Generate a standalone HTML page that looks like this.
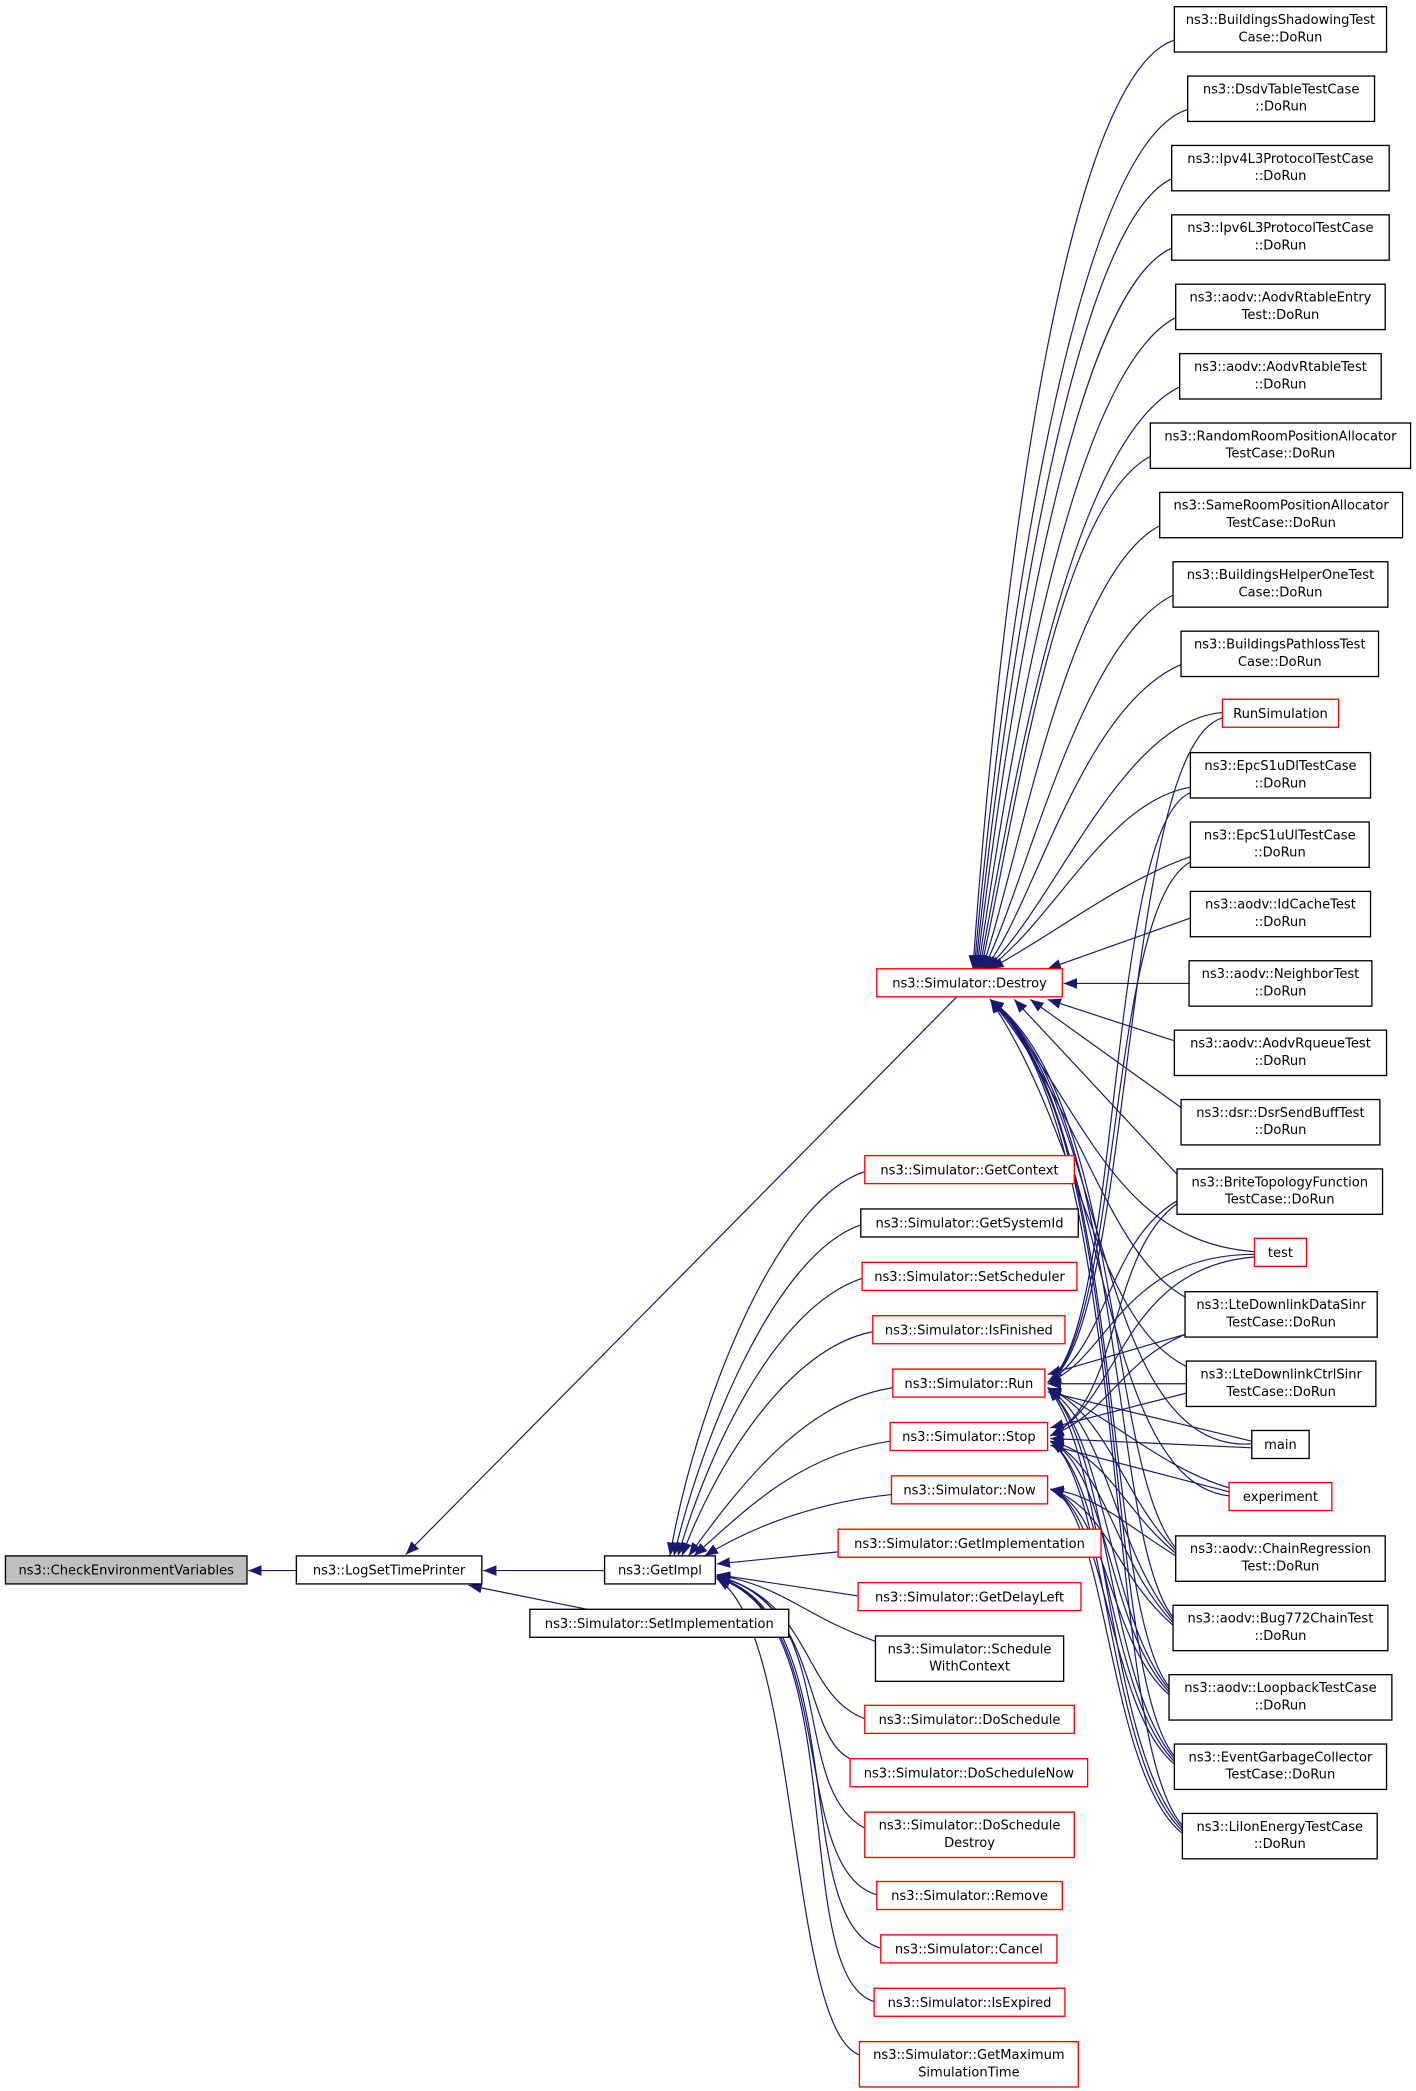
<!DOCTYPE html>
<html><head><meta charset="utf-8"><style>
html,body{margin:0;padding:0;background:#fff;}
svg{display:block;}
text{font-family:"DejaVu Sans","Liberation Sans",sans-serif;font-size:9.8px;fill:#000;text-anchor:middle;}
.n{fill:#fff;stroke:#000;stroke-width:1;}
.r{fill:#fff;stroke:#ff0000;stroke-width:1;}
.g{fill:#bfbfbf;stroke:#000;stroke-width:1;}
.e{fill:none;stroke:#191970;stroke-width:0.9;marker-end:url(#a);}
</style></head><body>
<svg width="1416" height="2091" viewBox="0 0 1061 1567" xmlns="http://www.w3.org/2000/svg">
<defs><marker id="a" markerUnits="userSpaceOnUse" markerWidth="11" markerHeight="8" refX="10" refY="4" orient="auto"><path d="M0,0 L10,4 L0,8 z" fill="#191970"/></marker></defs>

<path class="e" d="M880,30 C790,60 745,500 729,726"/>
<path class="e" d="M890,82 C800,110 748,520 730,726"/>
<path class="e" d="M878,134 C800,170 750,540 731,726"/>
<path class="e" d="M878,186 C800,220 752,560 732,726"/>
<path class="e" d="M881,238 C800,280 755,580 733,726"/>
<path class="e" d="M884,290 C800,330 758,600 734,726"/>
<path class="e" d="M862,342 C790,380 760,620 735,726"/>
<path class="e" d="M869,394 C800,430 765,640 736,726"/>
<path class="e" d="M879,446 C810,480 770,660 737,726"/>
<path class="e" d="M885,498 C810,530 775,680 738,726"/>
<path class="e" d="M916,534 C840,540 790,680 739,726"/>
<path class="e" d="M892,590 C830,600 790,690 740,726"/>
<path class="e" d="M892,642 C840,660 790,700 742,726"/>
<path class="e" d="M892,688 L785,726"/>
<path class="e" d="M891,737 L797,737"/>
<path class="e" d="M880,780 L785,749"/>
<path class="e" d="M885,830 L772,749"/>
<path class="e" d="M882,880 L760,749"/>
<path class="e" d="M940,938 C830,930 810,820 742,749"/>
<path class="e" d="M888,972 C830,940 810,830 742,749"/>
<path class="e" d="M889,1024 C820,990 810,850 742,749"/>
<path class="e" d="M938,1082 C820,1090 830,820 742,749"/>
<path class="e" d="M921,1121 C820,1110 830,830 742,749"/>
<path class="e" d="M881,1160 C830,1100 840,820 742,749"/>
<path class="e" d="M879,1212 C830,1150 845,830 742,749"/>
<path class="e" d="M876,1264 C825,1200 845,840 742,749"/>
<path class="e" d="M880,1316 C825,1250 848,840 742,749"/>
<path class="e" d="M886,1368 C825,1300 850,850 742,749"/>

<path class="e" d="M916,538 C840,560 850,1000 785,1036"/>
<path class="e" d="M892,594 C830,620 840,1000 785,1036"/>
<path class="e" d="M892,646 C830,680 840,1000 785,1036"/>
<path class="e" d="M882,900 C830,930 830,1010 785,1036"/>
<path class="e" d="M940,940 C840,940 830,1020 785,1036"/>
<path class="e" d="M888,1000 L785,1030"/>
<path class="e" d="M889,1037 L785,1037"/>
<path class="e" d="M938,1080 L785,1043"/>
<path class="e" d="M921,1115 C870,1100 830,1060 785,1040"/>
<path class="e" d="M881,1162 C840,1120 830,1060 785,1040"/>
<path class="e" d="M879,1214 C835,1160 830,1070 785,1040"/>
<path class="e" d="M876,1266 C830,1210 830,1080 785,1040"/>
<path class="e" d="M880,1318 C830,1260 830,1080 785,1040"/>
<path class="e" d="M886,1370 C830,1310 830,1090 785,1040"/>

<path class="e" d="M882,902 C830,940 840,1050 787,1076"/>
<path class="e" d="M940,942 C840,950 840,1050 787,1076"/>
<path class="e" d="M889,1044 L787,1070"/>
<path class="e" d="M888,1000 C840,1020 830,1060 787,1076"/>
<path class="e" d="M938,1085 L787,1078"/>
<path class="e" d="M921,1118 L787,1083"/>
<path class="e" d="M881,1164 C840,1130 830,1090 787,1080"/>
<path class="e" d="M879,1216 C835,1170 830,1100 787,1080"/>
<path class="e" d="M876,1268 C830,1220 830,1100 787,1080"/>
<path class="e" d="M880,1320 C830,1270 830,1110 787,1080"/>
<path class="e" d="M886,1372 C830,1320 830,1110 787,1080"/>

<path class="e" d="M881,1166 C840,1140 820,1120 787,1116"/>
<path class="e" d="M879,1218 C835,1180 830,1130 787,1116"/>
<path class="e" d="M876,1270 C830,1230 830,1130 787,1116"/>
<path class="e" d="M880,1322 C830,1280 830,1130 787,1116"/>
<path class="e" d="M886,1374 C830,1330 830,1130 787,1116"/>

<path class="e" d="M648,878 C580,900 520,1060 502,1166"/>
<path class="e" d="M645,918 C580,940 525,1080 505,1166"/>
<path class="e" d="M646,958 C580,980 530,1090 508,1166"/>
<path class="e" d="M654,998 C590,1010 535,1100 511,1166"/>
<path class="e" d="M669,1040 C600,1050 550,1120 516,1166"/>
<path class="e" d="M667,1080 C600,1090 560,1130 520,1166"/>
<path class="e" d="M668,1120 C620,1125 570,1140 528,1166"/>
<path class="e" d="M628,1163 L537,1172"/>
<path class="e" d="M643,1196 L537,1180"/>
<path class="e" d="M656,1230 C600,1210 590,1190 537,1180"/>
<path class="e" d="M648,1288 C600,1270 610,1200 537,1181"/>
<path class="e" d="M637,1318 C600,1300 615,1200 537,1181"/>
<path class="e" d="M648,1370 C590,1340 630,1200 537,1182"/>
<path class="e" d="M657,1420 C590,1400 630,1210 537,1182"/>
<path class="e" d="M660,1460 C590,1440 640,1210 537,1182"/>
<path class="e" d="M655,1500 C590,1480 640,1210 537,1183"/>
<path class="e" d="M644,1540 C590,1520 600,1220 537,1183"/>

<path class="e" d="M717,747 L304,1165"/>
<path class="e" d="M453,1177 L362,1177"/>
<path class="e" d="M440,1206 L351,1188"/>
<path class="e" d="M222,1177 L186,1177"/>

<rect class="g" x="4" y="1166" width="181" height="21"/><text x="94.5" y="1180">ns3::CheckEnvironmentVariables</text>
<rect class="n" x="222" y="1166" width="139" height="21"/><text x="291.5" y="1180">ns3::LogSetTimePrinter</text>
<rect class="n" x="453" y="1166" width="83" height="21"/><text x="494.5" y="1180">ns3::GetImpl</text>
<rect class="n" x="397" y="1206" width="194" height="21"/><text x="494" y="1220">ns3::Simulator::SetImplementation</text>

<rect class="r" x="657" y="726" width="139" height="21"/><text x="726.5" y="740">ns3::Simulator::Destroy</text>
<rect class="r" x="648" y="866" width="157" height="21"/><text x="726.5" y="880">ns3::Simulator::GetContext</text>
<rect class="n" x="645" y="906" width="163" height="21"/><text x="726.5" y="920">ns3::Simulator::GetSystemId</text>
<rect class="r" x="646" y="946" width="161" height="21"/><text x="726.5" y="960">ns3::Simulator::SetScheduler</text>
<rect class="r" x="654" y="986" width="144" height="21"/><text x="726" y="1000">ns3::Simulator::IsFinished</text>
<rect class="r" x="669" y="1026" width="114" height="21"/><text x="726" y="1040">ns3::Simulator::Run</text>
<rect class="r" x="667" y="1066" width="118" height="21"/><text x="726" y="1080">ns3::Simulator::Stop</text>
<rect class="r" x="668" y="1106" width="117" height="21"/><text x="726.5" y="1120">ns3::Simulator::Now</text>
<rect class="r" x="628" y="1146" width="197" height="21"/><text x="726.5" y="1160">ns3::Simulator::GetImplementation</text>
<rect class="r" x="643" y="1186" width="167" height="21"/><text x="726.5" y="1200">ns3::Simulator::GetDelayLeft</text>
<rect class="n" x="656" y="1226" width="141" height="34"/><text x="726.5" y="1239">ns3::Simulator::Schedule</text><text x="726.5" y="1252">WithContext</text>
<rect class="r" x="648" y="1278" width="157" height="21"/><text x="726.5" y="1292">ns3::Simulator::DoSchedule</text>
<rect class="r" x="637" y="1318" width="178" height="21"/><text x="726" y="1332">ns3::Simulator::DoScheduleNow</text>
<rect class="r" x="648" y="1358" width="157" height="34"/><text x="726.5" y="1371">ns3::Simulator::DoSchedule</text><text x="726.5" y="1384">Destroy</text>
<rect class="r" x="657" y="1410" width="139" height="21"/><text x="726.5" y="1424">ns3::Simulator::Remove</text>
<rect class="r" x="660" y="1450" width="132" height="21"/><text x="726" y="1464">ns3::Simulator::Cancel</text>
<rect class="r" x="655" y="1490" width="143" height="21"/><text x="726.5" y="1504">ns3::Simulator::IsExpired</text>
<rect class="r" x="644" y="1530" width="164" height="34"/><text x="726" y="1543">ns3::Simulator::GetMaximum</text><text x="726" y="1556">SimulationTime</text>

<rect class="n" x="880" y="5" width="159" height="34"/><text x="959.5" y="18">ns3::BuildingsShadowingTest</text><text x="959.5" y="31">Case::DoRun</text>
<rect class="n" x="890" y="57" width="140" height="34"/><text x="960" y="70">ns3::DsdvTableTestCase</text><text x="960" y="83">::DoRun</text>
<rect class="n" x="878" y="109" width="163" height="34"/><text x="959.5" y="122">ns3::Ipv4L3ProtocolTestCase</text><text x="959.5" y="135">::DoRun</text>
<rect class="n" x="878" y="161" width="163" height="34"/><text x="959.5" y="174">ns3::Ipv6L3ProtocolTestCase</text><text x="959.5" y="187">::DoRun</text>
<rect class="n" x="881" y="213" width="157" height="34"/><text x="959.5" y="226">ns3::aodv::AodvRtableEntry</text><text x="959.5" y="239">Test::DoRun</text>
<rect class="n" x="884" y="265" width="151" height="34"/><text x="959.5" y="278">ns3::aodv::AodvRtableTest</text><text x="959.5" y="291">::DoRun</text>
<rect class="n" x="862" y="317" width="195" height="34"/><text x="959.5" y="330">ns3::RandomRoomPositionAllocator</text><text x="959.5" y="343">TestCase::DoRun</text>
<rect class="n" x="869" y="369" width="182" height="34"/><text x="960" y="382">ns3::SameRoomPositionAllocator</text><text x="960" y="395">TestCase::DoRun</text>
<rect class="n" x="879" y="421" width="161" height="34"/><text x="959.5" y="434">ns3::BuildingsHelperOneTest</text><text x="959.5" y="447">Case::DoRun</text>
<rect class="n" x="885" y="473" width="148" height="34"/><text x="959" y="486">ns3::BuildingsPathlossTest</text><text x="959" y="499">Case::DoRun</text>
<rect class="r" x="916" y="524" width="87" height="21"/><text x="959.5" y="538">RunSimulation</text>
<rect class="n" x="892" y="564" width="135" height="34"/><text x="959.5" y="577">ns3::EpcS1uDlTestCase</text><text x="959.5" y="590">::DoRun</text>
<rect class="n" x="892" y="616" width="134" height="34"/><text x="959" y="629">ns3::EpcS1uUlTestCase</text><text x="959" y="642">::DoRun</text>
<rect class="n" x="892" y="668" width="135" height="34"/><text x="959.5" y="681">ns3::aodv::IdCacheTest</text><text x="959.5" y="694">::DoRun</text>
<rect class="n" x="891" y="720" width="137" height="34"/><text x="959.5" y="733">ns3::aodv::NeighborTest</text><text x="959.5" y="746">::DoRun</text>
<rect class="n" x="880" y="772" width="159" height="34"/><text x="959.5" y="785">ns3::aodv::AodvRqueueTest</text><text x="959.5" y="798">::DoRun</text>
<rect class="n" x="885" y="824" width="149" height="34"/><text x="959.5" y="837">ns3::dsr::DsrSendBuffTest</text><text x="959.5" y="850">::DoRun</text>
<rect class="n" x="882" y="876" width="154" height="34"/><text x="959" y="889">ns3::BriteTopologyFunction</text><text x="959" y="902">TestCase::DoRun</text>
<rect class="r" x="940" y="928" width="39" height="21"/><text x="959.5" y="942">test</text>
<rect class="n" x="888" y="968" width="144" height="34"/><text x="960" y="981">ns3::LteDownlinkDataSinr</text><text x="960" y="994">TestCase::DoRun</text>
<rect class="n" x="889" y="1020" width="142" height="34"/><text x="960" y="1033">ns3::LteDownlinkCtrlSinr</text><text x="960" y="1046">TestCase::DoRun</text>
<rect class="n" x="938" y="1072" width="43" height="21"/><text x="959.5" y="1086">main</text>
<rect class="r" x="921" y="1111" width="77" height="21"/><text x="959.5" y="1125">experiment</text>
<rect class="n" x="881" y="1151" width="157" height="34"/><text x="959.5" y="1164">ns3::aodv::ChainRegression</text><text x="959.5" y="1177">Test::DoRun</text>
<rect class="n" x="879" y="1203" width="161" height="34"/><text x="959.5" y="1216">ns3::aodv::Bug772ChainTest</text><text x="959.5" y="1229">::DoRun</text>
<rect class="n" x="876" y="1255" width="167" height="34"/><text x="959.5" y="1268">ns3::aodv::LoopbackTestCase</text><text x="959.5" y="1281">::DoRun</text>
<rect class="n" x="880" y="1307" width="159" height="34"/><text x="959.5" y="1320">ns3::EventGarbageCollector</text><text x="959.5" y="1333">TestCase::DoRun</text>
<rect class="n" x="886" y="1359" width="146" height="34"/><text x="959" y="1372">ns3::LiIonEnergyTestCase</text><text x="959" y="1385">::DoRun</text>
</svg>
</body></html>
